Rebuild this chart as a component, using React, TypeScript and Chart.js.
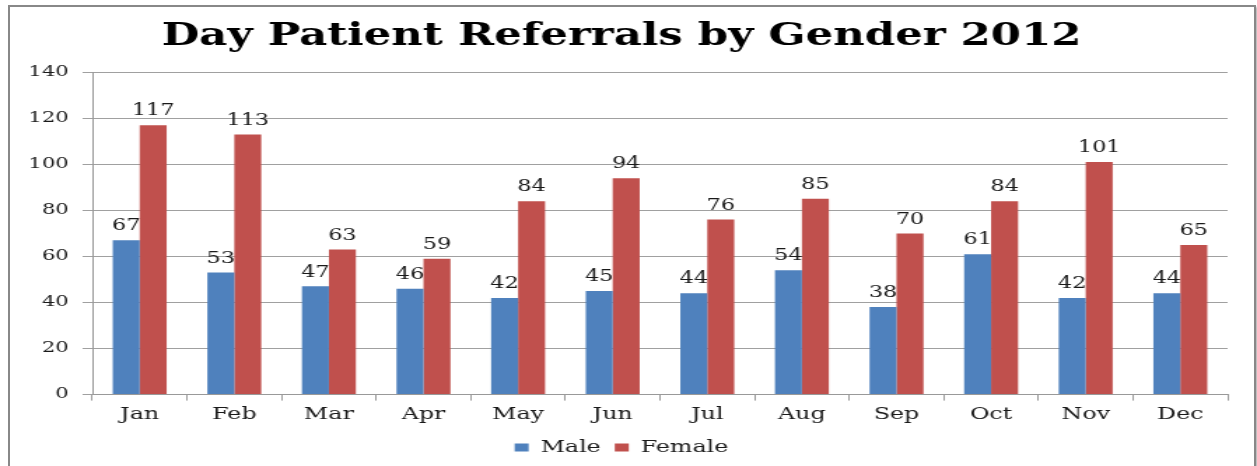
import React, { useEffect, useRef } from "react";
import { Chart, registerables } from "chart.js";

Chart.register(...registerables);

const months = ["Jan", "Feb", "Mar", "Apr", "May", "Jun", "Jul", "Aug", "Sep", "Oct", "Nov", "Dec"];
const maleValues = [67, 53, 47, 46, 42, 45, 44, 54, 38, 61, 42, 44];
const femaleValues = [117, 113, 63, 59, 84, 94, 76, 85, 70, 84, 101, 65];
const titleText = "Day Patient Referrals by Gender 2012";

const SERIF = "'DejaVu Serif', 'Liberation Serif', serif";
const PAGE_W = 1257;
const PAGE_H = 466;
const INNER_W = 898; // canvas drawn narrower, then stretched horizontally like the reference
const SX = PAGE_W / INNER_W;

const valueLabels = {
  id: "valueLabels",
  afterDatasetsDraw(chart: any) {
    const ctx = chart.ctx;
    ctx.save();
    ctx.font = `16px ${SERIF}`;
    ctx.fillStyle = "#1a1a1a";
    ctx.textAlign = "center";
    ctx.textBaseline = "bottom";
    chart.data.datasets.forEach((ds: any, i: number) => {
      const meta = chart.getDatasetMeta(i);
      meta.data.forEach((bar: any, j: number) => {
        ctx.fillText(String(ds.data[j]), bar.x, bar.y - 6);
      });
    });
    ctx.restore();
  },
};

export default function App() {
  const ref = useRef<HTMLCanvasElement>(null);
  useEffect(() => {
    if (!ref.current) return;
    const chart = new Chart(ref.current, {
      type: "bar",
      data: {
        labels: months,
        datasets: [
          { label: "Male", data: maleValues, backgroundColor: "#4F81BD", borderWidth: 0 },
          { label: "Female", data: femaleValues, backgroundColor: "#C0504D", borderWidth: 0 },
        ],
      },
      options: {
        animation: false,
        responsive: false,
        devicePixelRatio: 1,
        layout: { padding: { left: 11, right: 21, top: 18, bottom: 0 } },
        datasets: { bar: { categoryPercentage: 0.57, barPercentage: 1 } },
        plugins: {
          title: {
            display: true,
            text: titleText,
            color: "#000",
            font: { family: SERIF, size: 31, weight: "bold" },
            padding: { top: 0, bottom: 17 },
          },
          legend: {
            position: "bottom",
            labels: {
              color: "#1a1a1a",
              font: { family: SERIF, size: 17 },
              boxWidth: 10,
              boxHeight: 8,
              padding: 10,
            },
          },
          tooltip: { enabled: false },
        },
        scales: {
          x: {
            grid: { drawOnChartArea: false, drawTicks: true, tickLength: 6, color: "#999" },
            border: { color: "#999" },
            ticks: { color: "#1a1a1a", font: { family: SERIF, size: 17 }, padding: 4 },
          },
          y: {
            min: 0,
            max: 140,
            afterFit: (axis: any) => { axis.width = 55; },
            ticks: { stepSize: 20, color: "#1a1a1a", font: { family: SERIF, size: 15 }, padding: 10 },
            grid: { color: "#a0a0a0", tickLength: 7 },
            border: { color: "#999" },
          },
        },
      },
      plugins: [valueLabels],
    });
    return () => chart.destroy();
  }, []);
  return (
    <div>
      <div
        style={{
          position: "absolute",
          left: 8,
          top: 5,
          width: 1244,
          height: 470,
          border: "2px solid #888",
          boxShadow: "2px 2px 2px #bbb",
          background: "#fff",
        }}
      />
      <div
        style={{
          position: "absolute",
          left: 0,
          top: 0,
          width: INNER_W,
          height: PAGE_H,
          transform: `scaleX(${SX})`,
          transformOrigin: "0 0",
        }}
      >
        <canvas ref={ref} width={INNER_W} height={PAGE_H} />
      </div>
    </div>
  );
}
